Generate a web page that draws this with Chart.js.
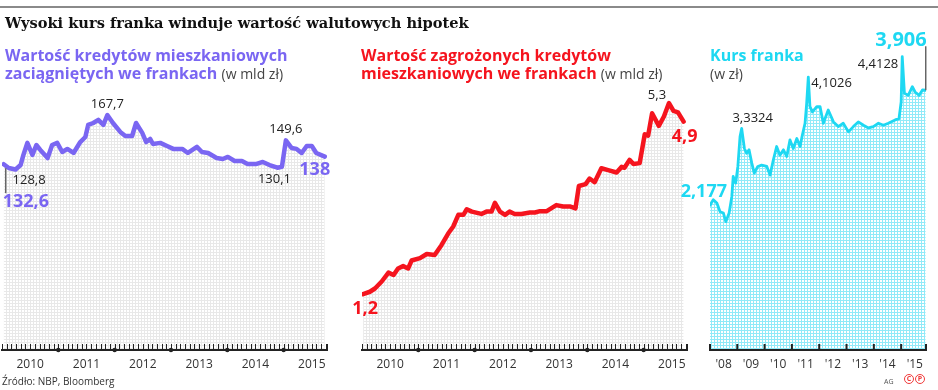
<!DOCTYPE html>
<html><head><meta charset="utf-8">
<script src="https://cdn.jsdelivr.net/npm/chart.js@4.4.1/dist/chart.umd.min.js"></script>
<style>
html,body{margin:0;padding:0;background:#fff;}
#wrap{position:relative;width:938px;height:390px;overflow:hidden;font-family:'Open Sans',sans-serif;}
canvas{position:absolute;left:0;top:0;}
.t{position:absolute;white-space:nowrap;}
.sub{font-weight:700;font-size:16px;line-height:18px;}
.u{font-weight:400;font-size:14px;color:#444;}
</style></head><body>
<div id="wrap">
<canvas id="c1" width="938" height="390"></canvas>
<canvas id="c2" width="938" height="390"></canvas>
<canvas id="c3" width="938" height="390"></canvas>
<div style="position:absolute;left:0;top:6px;width:938px;height:2px;background:#8a8a8a"></div>
<div class="t" style="left:5px;top:14px;font:bold 14.6px 'DejaVu Serif';color:#111">Wysoki kurs franka winduje wartość walutowych hipotek</div>
<div class="t sub" style="left:5px;top:46px;color:#7a66f2">Wartość kredytów mieszkaniowych<br>zaciągniętych we frankach <span class="u">(w mld zł)</span></div>
<div class="t sub" style="left:361px;top:46px;color:#f5141e">Wartość zagrożonych kredytów<br>mieszkaniowych we frankach <span class="u">(w mld zł)</span></div>
<div class="t sub" style="left:710px;top:46px;color:#1ed8f2">Kurs franka<br><span class="u">(w zł)</span></div>
<div class="t" style="left:2px;top:374px;font-size:10px;color:#333">Źródło: NBP, Bloomberg</div>
<div class="t" style="left:884px;top:377px;font-size:7px;color:#555">AG</div>
<div class="t" style="left:904px;top:374px;font-size:0;">
<span style="display:inline-block;width:8px;height:8px;border:1.5px solid #f03a3a;border-radius:50%;color:#f03a3a;font:bold 7px/8px 'Open Sans';text-align:center">C</span><span style="display:inline-block;margin-left:1px;width:8px;height:8px;border:1.5px solid #f03a3a;border-radius:50%;color:#f03a3a;font:bold 7px/8px 'Open Sans';text-align:center">P</span>
</div>
</div>
<script>
// ---------- DATA ----------
// Panel 1: value of CHF housing loans (bn PLN)
const kredytyLata = [2010.03,2010.12,2010.24,2010.33,2010.38,2010.45,2010.54,2010.61,2010.68,2010.81,2010.89,2010.98,2011.07,2011.16,2011.27,2011.39,2011.48,2011.53,2011.62,2011.71,2011.80,2011.87,2011.97,2012.10,2012.19,2012.31,2012.38,2012.49,2012.56,2012.63,2012.68,2012.81,2012.93,2013.04,2013.20,2013.30,2013.46,2013.55,2013.66,2013.81,2013.92,2014.01,2014.13,2014.26,2014.36,2014.52,2014.63,2014.75,2014.89,2014.97,2015.04,2015.14,2015.23,2015.32,2015.41,2015.50,2015.58,2015.73];
const kredytyWartosc = [132.6,129.9,128.8,132.0,139.2,147.8,139.2,146.3,142.8,137.0,146.3,147.8,141.3,143.5,140.6,148.4,152.0,160.6,162.0,164.2,160.6,167.7,162.0,155.6,152.7,152.7,162.0,154.9,148.4,150.6,147.0,147.8,145.6,143.5,143.5,140.6,144.9,141.3,140.6,137.0,136.3,137.8,134.9,134.9,132.8,132.8,134.2,132.0,130.1,130.8,149.6,144.2,143.5,140.6,145.6,145.6,140.6,138.0];
// Panel 2: value of impaired CHF housing loans (bn PLN)
const zagrozoneLata = [2010.02,2010.14,2010.23,2010.35,2010.47,2010.56,2010.64,2010.73,2010.82,2010.88,2011.03,2011.15,2011.29,2011.41,2011.53,2011.62,2011.71,2011.80,2011.86,2011.95,2012.12,2012.21,2012.30,2012.36,2012.45,2012.54,2012.62,2012.71,2012.83,2012.98,2013.07,2013.16,2013.28,2013.45,2013.57,2013.69,2013.79,2013.85,2013.97,2014.04,2014.13,2014.25,2014.37,2014.52,2014.61,2014.66,2014.75,2014.82,2014.93,2015.02,2015.08,2015.15,2015.27,2015.36,2015.45,2015.53,2015.61,2015.71];
const zagrozoneWartosc = [1.2,1.25,1.32,1.47,1.66,1.61,1.75,1.80,1.75,1.92,1.97,2.06,2.04,2.25,2.50,2.65,2.90,2.90,3.02,2.97,2.92,2.97,2.97,3.16,2.97,2.90,2.97,2.92,2.92,2.95,2.95,2.98,2.98,3.11,3.08,3.08,3.04,3.52,3.56,3.68,3.60,3.90,3.86,3.81,3.93,3.91,4.08,3.99,4.01,4.63,4.60,5.08,4.81,5.01,5.3,5.13,5.10,4.9];
// Panel 3: CHF/PLN rate
const kursLata = [2008.00,2008.12,2008.25,2008.37,2008.49,2008.58,2008.70,2008.80,2008.85,2008.94,2009.02,2009.10,2009.16,2009.26,2009.34,2009.43,2009.53,2009.62,2009.75,2009.89,2010.08,2010.20,2010.32,2010.44,2010.56,2010.69,2010.81,2010.93,2011.05,2011.18,2011.30,2011.38,2011.48,2011.54,2011.60,2011.66,2011.75,2011.91,2012.03,2012.15,2012.33,2012.52,2012.70,2012.88,2013.07,2013.25,2013.43,2013.62,2013.80,2013.98,2014.17,2014.35,2014.53,2014.78,2014.92,2015.00,2015.04,2015.12,2015.26,2015.41,2015.51,2015.66,2015.78,2015.90];
const kursWartosc = [2.177,2.26,2.21,2.08,2.06,1.93,2.06,2.31,2.61,2.51,2.76,3.21,3.3324,3.03,2.96,3.01,2.81,2.66,2.76,2.78,2.76,2.63,2.86,3.06,2.93,3.01,2.91,3.16,3.03,3.18,3.06,3.23,3.41,3.71,4.1026,3.66,3.58,3.66,3.66,3.41,3.61,3.43,3.36,3.41,3.28,3.36,3.43,3.38,3.34,3.36,3.41,3.38,3.41,3.46,3.48,3.73,4.4128,3.86,3.83,3.96,3.88,3.83,3.91,3.906];
// Tick labels
const lataPanel12 = [2010,2011,2012,2013,2014,2015];
const etykietyPanel12 = ['2010','2011','2012','2013','2014','2015'];
const lataPanel3 = [2008,2009,2010,2011,2012,2013,2014,2015];
const etykietyPanel3 = ["'08","'09","'10","'11","'12","'13","'14","'15"];

// ---------- STYLE ----------
const FONT = "'Open Sans', sans-serif";
function fmt(v){ return String(v).replace('.', ','); }
function pattern(color){
  const c = document.createElement('canvas'); c.width = 3; c.height = 3;
  const g = c.getContext('2d'); g.fillStyle = color;
  g.fillRect(0,0,3,1); g.fillRect(0,0,1,3);
  return g.createPattern(c, 'repeat');
}

const axisDeco = {
  id: 'axisDeco',
  afterDatasetsDraw(chart, args, o){
    const {ctx, chartArea:{left,right,bottom}, scales:{x}} = chart;
    ctx.save();
    ctx.strokeStyle = '#222'; ctx.fillStyle = '#222';
    ctx.lineWidth = 2;
    ctx.beginPath(); ctx.moveTo(left-1, bottom); ctx.lineTo(right+1, bottom); ctx.stroke();
    if (o.minor){
      ctx.lineWidth = 1; ctx.beginPath();
      for (let m = Math.ceil(x.min*12-1e-6); m <= Math.floor(x.max*12+1e-6); m++){
        const px = Math.round(x.getPixelForValue(m/12)) + 0.5;
        ctx.moveTo(px, bottom); ctx.lineTo(px, bottom-6);
      }
      const pe = Math.round(right)+0.5; ctx.moveTo(pe,bottom); ctx.lineTo(pe,bottom-6);
      ctx.stroke();
    }
    if (o.dots){
      for (let y = Math.ceil(x.min+1e-6); y < x.max; y++){
        ctx.beginPath(); ctx.arc(x.getPixelForValue(y), bottom, 2.2, 0, Math.PI*2); ctx.fill();
      }
    }
    if (o.major){
      ctx.lineWidth = 2; ctx.beginPath();
      for (let y = Math.ceil(x.min-1e-6); y <= x.max; y++){
        const px = x.getPixelForValue(y);
        ctx.moveTo(px, bottom); ctx.lineTo(px, bottom-6);
      }
      ctx.moveTo(right, bottom); ctx.lineTo(right, bottom-6);
      ctx.stroke();
    }
    ctx.restore();
  }
};

const notes = {
  id: 'notes',
  afterDatasetsDraw(chart, args, o){
    const {ctx, scales:{x,y}} = chart;
    const ds = chart.data.datasets[0].data;
    ctx.save();
    (o.items||[]).forEach(it => {
      const p = ds[it.i];
      const px = x.getPixelForValue(p.x), py = y.getPixelForValue(p.y);
      if (it.leader){
        ctx.strokeStyle = '#666'; ctx.lineWidth = 1.5;
        ctx.beginPath(); ctx.moveTo(px+it.leader[0], py+it.leader[1]); ctx.lineTo(px+it.leader[0], py+it.leader[2]); ctx.stroke();
      }
      ctx.font = (it.big ? '700 '+(it.size||18)+'px ' : '400 13px ') + FONT;
      ctx.fillStyle = it.color || '#222';
      ctx.textAlign = it.align || 'center';
      ctx.textBaseline = 'middle';
      ctx.fillText(fmt(p.y), px + it.dx, py + it.dy);
    });
    ctx.restore();
  }
};

function makeChart(id, lata, wartosci, cfg){
  const pts = lata.map((t,i) => ({x: t, y: wartosci[i]}));
  const tickVals = cfg.tickYears.map(v => v + 0.5);
  return new Chart(document.getElementById(id), {
    type: 'line',
    data: { datasets: [{
      data: pts, borderColor: cfg.color, borderWidth: cfg.lw,
      backgroundColor: pattern(cfg.fillColor), fill: 'start',
      pointRadius: 0, tension: 0, borderJoinStyle: 'round', borderCapStyle: 'round'
    }]},
    options: {
      responsive: false, animation: false, events: [],
      layout: { padding: cfg.pad },
      plugins: { legend: {display:false}, tooltip: {enabled:false},
        axisDeco: cfg.axis, notes: {items: cfg.notes} },
      scales: {
        x: { type: 'linear', min: cfg.xmin, max: cfg.xmax,
          grid: {display:false, drawTicks:false}, border: {display:false},
          afterBuildTicks: s => { s.ticks = tickVals.map(v => ({value: v})); },
          ticks: { autoSkip:false, maxRotation:0, padding:7, color:'#333',
            font:{family:FONT, size:12}, callback: (v,i) => cfg.tickLabels[i] } },
        y: { display:false, min: 0, max: cfg.ymax }
      }
    },
    plugins: [axisDeco, notes]
  });
}

function draw(){
  makeChart('c1', kredytyLata, kredytyWartosc, {
    color:'#7a66f2', lw:4.5, fillColor:'#e8e8e8',
    pad:{left:2, right:611, top:100, bottom:11.6},
    xmin:2010, xmax:2015.77, ymax:178.4,
    tickYears: lataPanel12, tickLabels: etykietyPanel12,
    axis:{minor:true, dots:true},
    notes:[
      {i:0, dx:-1, dy:38, align:'left', big:true, color:'#7a66f2', leader:[2,4,29]},
      {i:2, dx:-3, dy:11, align:'left'},
      {i:21, dx:0, dy:-11},
      {i:50, dx:0, dy:-11},
      {i:48, dx:-3, dy:12},
      {i:57, dx:-10, dy:13, big:true, color:'#7a66f2'}
    ]
  });
  makeChart('c2', zagrozoneLata, zagrozoneWartosc, {
    color:'#f5141e', lw:4.5, fillColor:'#e8e8e8',
    pad:{left:362, right:251, top:100, bottom:11.6},
    xmin:2010, xmax:2015.77, ymax:5.365,
    tickYears: lataPanel12, tickLabels: etykietyPanel12,
    axis:{minor:true, dots:true},
    notes:[
      {i:0, dx:2, dy:15, big:true, color:'#f5141e'},
      {i:54, dx:-12, dy:-8},
      {i:57, dx:1, dy:15, big:true, color:'#f5141e'}
    ]
  });
  makeChart('c3', kursLata, kursWartosc, {
    color:'#1ed8f2', lw:2.8, fillColor:'#90eaf8',
    pad:{left:710, right:12, top:40, bottom:11.6},
    xmin:2008, xmax:2015.91, ymax:4.662,
    tickYears: lataPanel3, tickLabels: etykietyPanel3,
    axis:{major:true},
    notes:[
      {i:0, dx:17, dy:-13, align:'right', big:true, color:'#1ed8f2'},
      {i:12, dx:11, dy:-10},
      {i:34, dx:3, dy:6, align:'left'},
      {i:56, dx:-4, dy:8, align:'right'},
      {i:63, dx:1, dy:-50, align:'right', big:true, size:20, color:'#1ed8f2', leader:[0,-44,0]}
    ]
  });
}
Promise.all([
  document.fonts.load("400 13px 'Open Sans'"),
  document.fonts.load("700 18px 'Open Sans'"),
  document.fonts.load("600 16px 'Open Sans'")
]).then(draw, draw);
</script>
</body></html>
